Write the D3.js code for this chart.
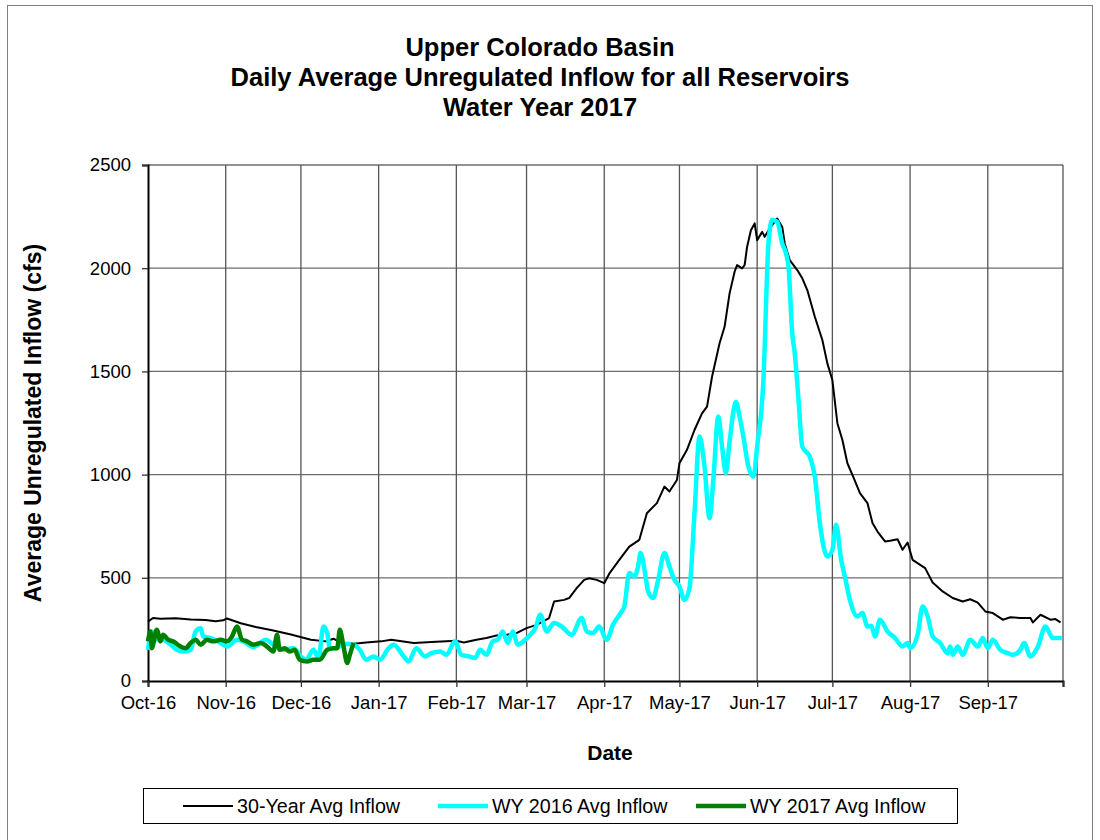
<!DOCTYPE html>
<html>
<head>
<meta charset="utf-8">
<script src="https://cdn.jsdelivr.net/npm/d3@7"></script>
<style>
  body { margin: 0; background: #fff; }
  svg { font-family: "Liberation Sans", Arial, sans-serif; }
</style>
</head>
<body>
<div id="chart"></div>
<script>
const width = 1100;
const height = 840;
const margin = { top: 165, right: 37, bottom: 159, left: 148 };

// DATA (days after 1 Oct 2016, daily average inflow in cfs)
const avgDay = [0, 2, 5, 11, 17, 23, 27, 30, 31.5, 37, 43, 50, 57, 65, 71, 74, 77, 82, 87, 93, 97, 106, 115, 123, 126, 131, 135, 139, 143, 147, 151, 155, 160, 162, 166, 168, 171, 174, 176, 179, 182, 184, 188, 192, 196, 199, 203, 206, 208, 211, 212, 215, 218, 221, 223, 225, 228, 230, 232, 234, 235, 237, 238, 239, 240.5, 242, 243, 245, 246, 248, 251, 253, 254, 256, 259, 261, 263, 266, 269, 271, 273, 275, 277, 279, 281, 284, 287, 289, 291, 294, 296, 299, 301, 303, 305, 310, 313, 317, 321, 325, 328, 331, 334, 337, 341, 344, 348, 352, 353, 356, 360, 362, 364];
const avgFlow = [288, 305, 302, 304, 298, 296, 290, 294, 303, 280, 262, 245, 225, 200, 192, 205, 185, 180, 187, 192, 200, 184, 190, 195, 187, 200, 208, 220, 224, 232, 256, 272, 305, 385, 393, 402, 450, 490, 498, 490, 474, 520, 587, 651, 684, 813, 862, 942, 918, 974, 1055, 1120, 1216, 1297, 1329, 1474, 1636, 1716, 1878, 1983, 2015, 1999, 2015, 2104, 2184, 2217, 2136, 2176, 2152, 2193, 2241, 2200, 2120, 2039, 1991, 1951, 1894, 1765, 1652, 1539, 1458, 1249, 1168, 1055, 999, 910, 862, 765, 724, 676, 680, 687, 636, 671, 587, 547, 477, 434, 402, 385, 396, 380, 337, 329, 297, 309, 305, 305, 284, 321, 297, 300, 284];

const wy16Day = [0, 1.5, 4, 6, 9, 11.5, 14, 17, 19, 21, 22, 25, 29, 31.5, 35.5, 38, 42, 47, 50, 54, 58, 61, 63, 66, 68, 70, 71.5, 72.5, 75, 78, 82, 84.5, 87, 90, 92.5, 96, 98, 102, 104, 107, 110.5, 113, 116.5, 119, 122.5, 125, 128, 130.5, 132.5, 135, 137.5, 139.5, 141.5, 143.5, 145.5, 147.5, 150.5, 152.5, 154.5, 156.5, 159, 162, 165, 169, 173, 175, 177.5, 180, 183, 185.5, 188.5, 190, 192, 194, 195.5, 196.5, 198.5, 199.5, 201.5, 203.5, 206, 208, 210, 212, 214, 216, 218, 220, 222, 224, 225.5, 227.5, 229, 230.5, 232, 234.5, 236, 237.5, 239.5, 241.5, 243, 245.5, 247.5, 249, 251, 253, 254.5, 255.5, 257, 258, 259.5, 261, 264, 266, 268, 271, 273, 274.5, 276.5, 278, 280, 283, 285, 287, 288.5, 290, 292, 295, 298, 301, 303, 304, 307, 309, 311, 313, 316, 319, 320, 321, 323, 325, 328, 331, 333, 335, 337, 340, 343, 345, 348, 349.5, 352, 355, 358, 361, 364.5];
const wy16Flow = [151, 240, 200, 200, 176, 151, 143, 151, 240, 256, 216, 208, 184, 167, 200, 192, 164, 200, 176, 151, 159, 119, 103, 151, 111, 264, 232, 159, 159, 180, 176, 151, 103, 119, 103, 159, 176, 119, 95, 159, 119, 135, 143, 127, 192, 127, 119, 111, 151, 127, 192, 200, 240, 184, 240, 176, 200, 224, 256, 321, 240, 281, 264, 224, 305, 240, 232, 264, 200, 272, 329, 361, 523, 506, 555, 620, 506, 434, 402, 490, 620, 555, 490, 458, 393, 450, 813, 1184, 1039, 789, 974, 1281, 1136, 1007, 1160, 1353, 1281, 1184, 1039, 990, 1136, 1458, 2120, 2235, 2225, 2120, 2072, 2007, 1684, 1588, 1362, 1136, 1087, 990, 765, 603, 636, 757, 587, 506, 393, 313, 329, 264, 268, 216, 297, 240, 208, 167, 184, 159, 224, 361, 313, 216, 184, 135, 167, 127, 167, 127, 200, 167, 208, 159, 200, 151, 135, 127, 151, 184, 119, 167, 264, 208, 208];

const wy17Day = [0, 1, 1.5, 3.5, 5, 6, 8, 10, 13, 15, 17, 19, 21, 23.5, 26, 29, 31.5, 33.5, 35.5, 37.5, 39.5, 42, 45, 47.5, 50, 51.5, 52.5, 54.5, 56.5, 58.5, 60.5, 63.5, 66, 68.5, 71.5, 74, 75.5, 76.5, 78, 79.5, 80.5, 82];
const wy17Flow = [192, 240, 159, 248, 192, 224, 200, 192, 167, 159, 184, 200, 176, 200, 192, 200, 192, 216, 264, 200, 192, 176, 184, 167, 143, 224, 151, 159, 143, 151, 103, 95, 103, 103, 151, 159, 159, 248, 167, 87, 127, 185];

const yTicks = [0, 500, 1000, 1500, 2000, 2500];
const titleLines = ["Upper Colorado Basin", "Daily Average Unregulated Inflow for all Reservoirs", "Water Year 2017"];
const seriesNames = ["30-Year Avg Inflow", "WY 2016 Avg Inflow", "WY 2017 Avg Inflow"];
const seriesColors = ["#000000", "#00ffff", "#008000"];

const start = new Date(2016, 9, 1);
const end = new Date(2017, 9, 1);
const toPoints = (days, vals) => days.map((d, i) => ({ date: new Date(start.getTime() + d * 86400000), value: vals[i] }));

const avg = toPoints(avgDay, avgFlow);
const wy16 = toPoints(wy16Day, wy16Flow);
const wy17 = toPoints(wy17Day, wy17Flow);

// SCALES
const xScale = d3.scaleTime()
  .domain([start, end])
  .range([margin.left, width - margin.right]);

const yScale = d3.scaleLinear()
  .domain([0, 2500])
  .range([height - margin.bottom, margin.top]);

const svg = d3.select("#chart")
  .append("svg")
  .attr("width", width)
  .attr("height", height);

// outer frame
svg.append("rect")
  .attr("x", 7.5).attr("y", 5.5)
  .attr("width", 1085).attr("height", 860)
  .attr("fill", "none")
  .attr("stroke", "#808080");

// title
svg.append("g")
  .selectAll("text")
  .data(titleLines)
  .join("text")
  .attr("x", 540)
  .attr("y", (d, i) => 56 + i * 30)
  .attr("text-anchor", "middle")
  .attr("font-size", 25.5)
  .attr("font-weight", "bold")
  .text(d => d);

// GRID
const months = d3.timeMonth.range(start, d3.timeDay.offset(end, 1));

svg.append("g")
  .selectAll("line")
  .data(yTicks.slice(1))
  .join("line")
  .attr("x1", margin.left).attr("x2", width - margin.right)
  .attr("y1", d => yScale(d)).attr("y2", d => yScale(d))
  .attr("stroke", "#6e6e6e")
  .attr("stroke-width", 1.3);

svg.append("g")
  .selectAll("line")
  .data(months.slice(1))
  .join("line")
  .attr("x1", d => xScale(d)).attr("x2", d => xScale(d))
  .attr("y1", yScale(0)).attr("y2", yScale(2500))
  .attr("stroke", "#555")
  .attr("stroke-width", 1.3);

// AXES
const yAxis = svg.append("g")
  .attr("transform", `translate(${margin.left},0)`)
  .call(d3.axisLeft(yScale).tickValues(yTicks).tickSize(6).tickPadding(11).tickFormat(d3.format("d")));

const xAxis = svg.append("g")
  .attr("transform", `translate(0,${yScale(0)})`)
  .call(d3.axisBottom(xScale).tickValues(months).tickSize(6).tickPadding(9)
    .tickFormat(d => d < end ? d3.timeFormat("%b-%y")(d) : ""));

[yAxis, xAxis].forEach(a => {
  a.select(".domain").attr("stroke", "#000").attr("stroke-width", 2);
  a.selectAll(".tick line").attr("stroke", "#333").attr("stroke-width", 1.3);
  a.selectAll("text").attr("font-size", 18.5).attr("fill", "#000")
    .attr("font-family", "'Liberation Sans', Arial, sans-serif");
});

// axis titles
svg.append("text")
  .attr("x", 610).attr("y", 760)
  .attr("text-anchor", "middle")
  .attr("font-size", 21).attr("font-weight", "bold")
  .text("Date");

svg.append("text")
  .attr("transform", `translate(41,${(yScale(0) + yScale(2500)) / 2}) rotate(-90)`)
  .attr("text-anchor", "middle")
  .attr("font-size", 23).attr("font-weight", "bold")
  .text("Average Unregulated Inflow (cfs)");

// LINES
const line = d3.line().x(d => xScale(d.date)).y(d => yScale(d.value));
const smooth = d3.line().x(d => xScale(d.date)).y(d => yScale(d.value)).curve(d3.curveMonotoneX);

svg.append("path").datum(avg)
  .attr("d", line).attr("fill", "none")
  .attr("stroke", seriesColors[0]).attr("stroke-width", 2).attr("stroke-linejoin", "round");

svg.append("path").datum(wy16)
  .attr("d", smooth).attr("fill", "none")
  .attr("stroke", seriesColors[1]).attr("stroke-width", 4.5).attr("stroke-linejoin", "round");

svg.append("path").datum(wy17)
  .attr("d", smooth).attr("fill", "none")
  .attr("stroke", seriesColors[2]).attr("stroke-width", 4.5).attr("stroke-linejoin", "round");

// LEGEND
svg.append("rect")
  .attr("x", 143.5).attr("y", 788.5)
  .attr("width", 814).attr("height", 35)
  .attr("fill", "#fff").attr("stroke", "#000");

const legendX = [183, 438, 696];
const legend = svg.append("g")
  .selectAll("g")
  .data(seriesNames)
  .join("g")
  .attr("transform", (d, i) => `translate(${legendX[i]},806)`);

legend.append("line")
  .attr("x1", 0).attr("x2", 50)
  .attr("stroke", (d, i) => seriesColors[i])
  .attr("stroke-width", (d, i) => i === 0 ? 2 : 4.5);

legend.append("text")
  .attr("x", 54).attr("y", 7)
  .attr("font-size", 19.7)
  .text(d => d);
</script>
</body>
</html>
